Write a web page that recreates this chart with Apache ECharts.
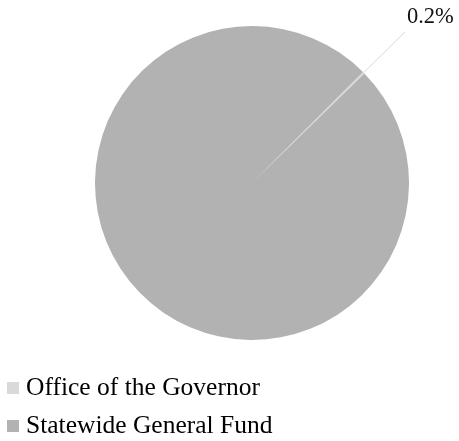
<!DOCTYPE html>
<html>
<head>
<meta charset="utf-8">
<script src="https://cdn.jsdelivr.net/npm/echarts@6/dist/echarts.min.js"></script>
<style>
  html, body { margin: 0; padding: 0; background: #fff; }
  #chart { width: 459px; height: 441px; }
</style>
</head>
<body>
<div id="chart"></div>
<script>
const categories = ['Office of the Governor', 'Statewide General Fund'];
const shares = [0.2, 99.8];
const colors = ['#d9d9d9', '#b2b2b2'];
const labelled = [true, false];

const chart = echarts.init(document.getElementById('chart'));
const font = '"Liberation Serif", "Times New Roman", serif';

chart.setOption({
  backgroundColor: '#fff',
  animation: false,
  legend: {
    orient: 'vertical',
    left: 7,
    top: 375,
    height: 66,
    padding: 0,
    itemWidth: 12,
    itemHeight: 12,
    itemGap: 12,
    icon: 'rect',
    textStyle: { fontFamily: font, fontSize: 25.5, color: '#000', padding: [0, 0, 0, 2] },
    data: categories,
  },
  series: [{
    type: 'pie',
    center: [252, 183],
    radius: 157,
    startAngle: 45,
    clockwise: true,
    avoidLabelOverlap: false,
    itemStyle: { borderWidth: 0 },
    label: {
      // the value sits above the end of the leader line, as in the original
      formatter: p => '{v|' + p.value.toFixed(1) + '%}\n{gap|}',
      distanceToLabelLine: 2,
      rich: {
        v: { fontFamily: font, fontSize: 22.5, lineHeight: 24, color: '#111' },
        gap: { height: 30 },
      },
    },
    labelLine: {
      length: 58,
      length2: 0,
      lineStyle: { color: '#d9d9d9', width: 1 },
    },
    data: categories.map((name, i) => ({
      name,
      value: shares[i],
      itemStyle: { color: colors[i] },
      label: { show: labelled[i] },
      labelLine: { show: labelled[i] },
    })),
  }],
});
</script>
</body>
</html>
